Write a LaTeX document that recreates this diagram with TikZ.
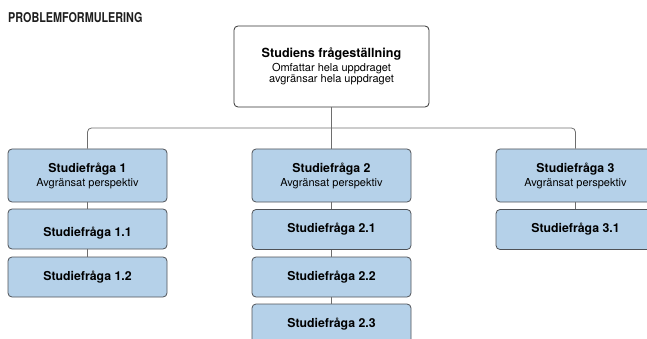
\documentclass[tikz,border=0pt]{standalone}
\usepackage{fontspec}
\setmainfont{TeX Gyre Heros}
\begin{document}
\begin{tikzpicture}[x=1pt,y=-1pt,
  box/.style={draw=boxline, line width=0.8pt, rounded corners=4pt, fill=boxfill,
    minimum width=159pt, align=center, inner sep=0pt},
  mainbox/.style={box, minimum height=53pt},
  subbox/.style={box, minimum height=40pt},
  topbox/.style={draw=topline, line width=0.8pt, rounded corners=4pt, fill=white,
    minimum width=195pt, minimum height=81pt, align=center, inner sep=0pt},
  link/.style={draw=linkgray, line width=0.8pt},
  ttl/.style={font=\fontsize{12.3}{14}\selectfont\bfseries},
  plain/.style={inner sep=0pt}
]
\definecolor{boxfill}{HTML}{B5D1E9}
\definecolor{boxline}{HTML}{4F5257}
\definecolor{topline}{HTML}{333333}
\definecolor{linkgray}{HTML}{6E6E6E}
\definecolor{headtext}{HTML}{1E1E1E}

\newcommand{\qtitle}[1]{{\fontsize{12.3}{14}\selectfont\bfseries #1}}
\newcommand{\qsub}[1]{{\fontsize{11}{13}\selectfont #1}}

\useasboundingbox (0,0) rectangle (647,339);

% heading
\node[anchor=base west, inner sep=0pt, text=headtext] (head) at (8,22.5)
  {\scalebox{0.8}[1]{\fontsize{13.5}{15}\selectfont\bfseries PROBLEMFORMULERING}};

% overall study question
\node[topbox] (top) at (331.5,66.5)
  {{\fontsize{12.6}{15}\selectfont\bfseries Studiens frågeställning}\\[1.5pt]
   \qsub{Omfattar hela uppdraget}\\[-0.5pt]
   \qsub{avgränsar hela uppdraget}};

% study questions, first level
\node[mainbox] (q1) at (87.5,175.5) {\qtitle{Studiefråga 1}\\[2pt]\qsub{Avgränsat perspektiv}};
\node[mainbox] (q2) at (331.5,175.5) {\qtitle{Studiefråga 2}\\[2pt]\qsub{Avgränsat perspektiv}};
\node[mainbox] (q3) at (575.5,175.5) {\qtitle{Studiefråga 3}\\[2pt]\qsub{Avgränsat perspektiv}};

% sub-questions (the label of 1.1 sits a little low in its box)
\node[subbox] (q11) at (87.5,229) {};
\node[plain, ttl] (q11t) at ([yshift=-4.5pt]q11.center) {Studiefråga 1.1};
\node[subbox, ttl] (q12) at (87.5,277) {Studiefråga 1.2};
\node[subbox, ttl] (q21) at (331.5,229.5) {Studiefråga 2.1};
\node[subbox, ttl] (q22) at (331.5,277) {Studiefråga 2.2};
\node[subbox, ttl] (q23) at (331.5,324) {Studiefråga 2.3};
\node[subbox, ttl] (q31) at (575.5,229.5) {Studiefråga 3.1};

% connectors
\coordinate (bar) at (0,128);
\draw[link, rounded corners=4pt] (q1.north) -- (q1.north |- bar) -- (q3.north |- bar) -- (q3.north);
\draw[link] (top.south) -- (q2.north);
\draw[link] (q1.south) -- (q11.north);
\draw[link] (q11.south) -- (q12.north);
\draw[link] (q2.south) -- (q21.north);
\draw[link] (q21.south) -- (q22.north);
\draw[link] (q22.south) -- (q23.north);
\draw[link] (q3.south) -- (q31.north);
\end{tikzpicture}
\end{document}
